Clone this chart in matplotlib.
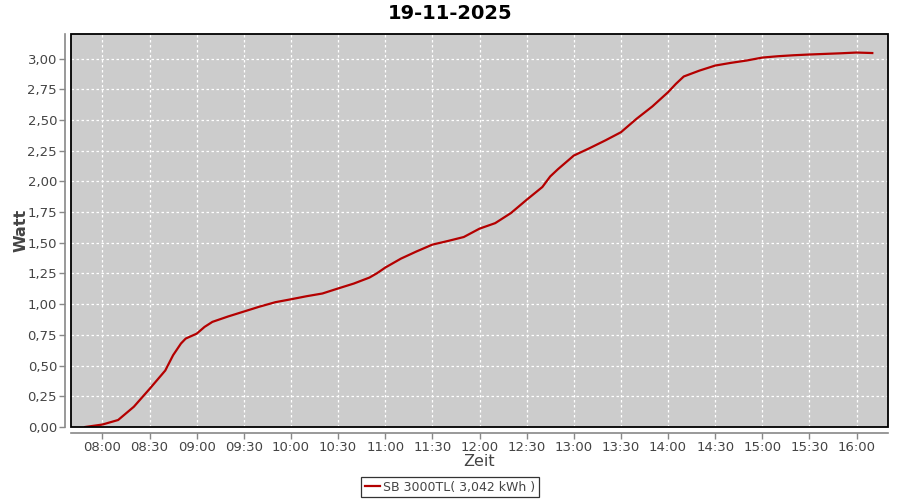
import matplotlib
matplotlib.use("Agg")
import matplotlib.pyplot as plt
from matplotlib.patches import Rectangle
from matplotlib.ticker import FuncFormatter, FixedLocator

times = ["07:49", "08:00", "08:10", "08:20", "08:30", "08:40", "08:45", "08:50", "08:53",
         "09:00", "09:05", "09:10", "09:20", "09:30", "09:40", "09:50", "10:00", "10:10",
         "10:20", "10:30", "10:40", "10:50", "10:55", "11:00", "11:10", "11:20", "11:30",
         "11:40", "11:50", "12:00", "12:10", "12:20", "12:30", "12:40", "12:45", "12:50",
         "13:00", "13:10", "13:20", "13:30", "13:40", "13:50", "14:00", "14:05", "14:10",
         "14:20", "14:30", "14:40", "14:50", "15:00", "15:10", "15:20", "15:30", "15:40",
         "15:50", "16:00", "16:10"]
values = [0.00, 0.02, 0.057, 0.165, 0.31, 0.46, 0.585, 0.68, 0.72,
          0.76, 0.815, 0.856, 0.90, 0.94, 0.98, 1.016, 1.04, 1.065,
          1.087, 1.128, 1.168, 1.217, 1.254, 1.298, 1.371, 1.43, 1.485,
          1.515, 1.547, 1.615, 1.66, 1.742, 1.85, 1.954, 2.04, 2.10,
          2.21, 2.27, 2.333, 2.40, 2.51, 2.61, 2.726, 2.794, 2.854,
          2.902, 2.943, 2.965, 2.984, 3.008, 3.019, 3.027, 3.033, 3.038,
          3.043, 3.049, 3.045]
title = "19-11-2025"
series_label = "SB 3000TL( 3,042 kWh )"
x_ticks = ["08:00", "08:30", "09:00", "09:30", "10:00", "10:30", "11:00", "11:30",
           "12:00", "12:30", "13:00", "13:30", "14:00", "14:30", "15:00", "15:30", "16:00"]
y_ticks = [0, 0.25, 0.5, 0.75, 1.0, 1.25, 1.5, 1.75, 2.0, 2.25, 2.5, 2.75, 3.0]


def to_h(s):
    h, m = s.split(":")
    return int(h) + int(m) / 60.0


x = [to_h(t) for t in times]

plt.rcParams['font.family'] = ['DejaVu Sans']
fig = plt.figure(figsize=(9, 5), dpi=100)
ax = fig.add_axes([71 / 900, 73 / 500, 817 / 900, 393 / 500])
ax.set_facecolor('#cccccc')

ax.plot(x, values, color='#b40000', lw=1.6, label=series_label, zorder=3)

ax.set_xlim(to_h("07:40"), to_h("16:20"))
ax.set_ylim(0, 3.2)
ax.xaxis.set_major_locator(FixedLocator([to_h(t) for t in x_ticks]))
ax.set_xticklabels(x_ticks)
ax.yaxis.set_major_locator(FixedLocator(y_ticks))
ax.yaxis.set_major_formatter(FuncFormatter(lambda v, p: f"{v:.2f}".replace(".", ",")))

ax.grid(True, color='white', linestyle=(0, (2, 2)), linewidth=0.9)
ax.set_axisbelow(True)

for s in ['top', 'right']:
    ax.spines[s].set_visible(False)
for s in ['left', 'bottom']:
    ax.spines[s].set_position(('outward', 4))
    ax.spines[s].set_color('#888888')
    ax.spines[s].set_linewidth(1.2)
ax.add_patch(Rectangle((0, 0), 1, 1, transform=ax.transAxes, fill=False,
                       edgecolor='black', lw=1.3, zorder=5, clip_on=False))

ax.tick_params(axis='both', direction='out', length=4, width=1, color='#888888',
               labelcolor='#444444', labelsize=9.5, pad=2)

ax.set_xlabel("Zeit", fontsize=11.5, color='#444444', labelpad=0)
ax.set_ylabel("Watt", fontsize=11.5, color='#444444', labelpad=-1, fontweight='bold')
fig.text(0.5, 0.973, title, ha='center', va='center', fontsize=14, fontweight='bold', color='black')

leg = fig.legend(loc='center', bbox_to_anchor=(0.5, 0.026), fontsize=9, frameon=True,
                 fancybox=False, handlelength=1.2, handletextpad=0.3, borderpad=0.3,
                 labelcolor='#444444')
leg.get_frame().set_edgecolor('black')
leg.get_frame().set_linewidth(0.9)

fig.savefig("out.png", dpi=100)
